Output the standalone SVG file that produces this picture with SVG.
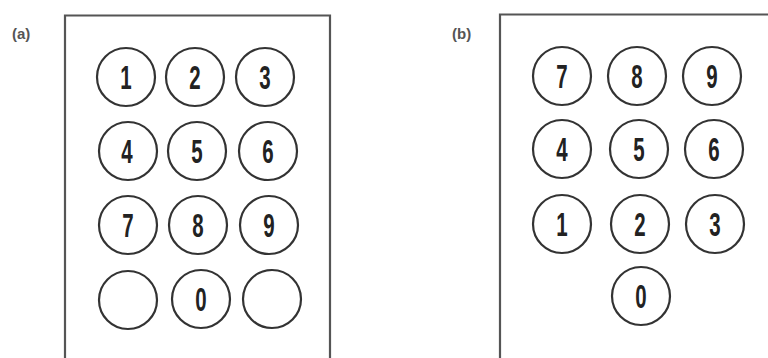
<svg xmlns="http://www.w3.org/2000/svg" width="768" height="358" viewBox="0 0 768 358">
<style>
.frame{fill:none;stroke:#555;stroke-width:2.2}
.key{fill:none;stroke:#333;stroke-width:2.2}
.d{font-family:"Liberation Sans Narrow","Liberation Sans",sans-serif;font-size:33px;font-weight:bold;fill:#222;text-anchor:middle}
.lbl{font-family:"Liberation Sans","DejaVu Sans",sans-serif;font-size:15px;font-weight:bold;fill:#555}
</style>
<rect width="768" height="358" fill="#fff"/>
<g id="panel-a">
<text class="lbl" x="12" y="39">(a)</text>
<path class="frame" d="M65,358 V15.5 H330 V358"/>
<g id="a1"><ellipse class="key" cx="126" cy="77" rx="29" ry="29"/><text class="d" transform="translate(126,89) scale(0.62,1)">1</text></g>
<g id="a2"><ellipse class="key" cx="195" cy="77" rx="29" ry="29"/><text class="d" transform="translate(195,89) scale(0.62,1)">2</text></g>
<g id="a3"><ellipse class="key" cx="265" cy="77" rx="29" ry="29"/><text class="d" transform="translate(265,89) scale(0.62,1)">3</text></g>
<g id="a4"><ellipse class="key" cx="128" cy="151" rx="29" ry="29"/><text class="d" transform="translate(127,163) scale(0.62,1)">4</text></g>
<g id="a5"><ellipse class="key" cx="197" cy="151" rx="29" ry="29"/><text class="d" transform="translate(197,163) scale(0.62,1)">5</text></g>
<g id="a6"><ellipse class="key" cx="268" cy="151" rx="29" ry="29"/><text class="d" transform="translate(268,163) scale(0.62,1)">6</text></g>
<g id="a7"><ellipse class="key" cx="128" cy="225" rx="29" ry="29"/><text class="d" transform="translate(128,237) scale(0.62,1)">7</text></g>
<g id="a8"><ellipse class="key" cx="198" cy="225" rx="29" ry="29"/><text class="d" transform="translate(198,237) scale(0.62,1)">8</text></g>
<g id="a9"><ellipse class="key" cx="269" cy="225" rx="29" ry="29"/><text class="d" transform="translate(269,237) scale(0.62,1)">9</text></g>
<g id="a-blank-left"><ellipse class="key" cx="128" cy="300" rx="29" ry="29"/></g>
<g id="a0"><ellipse class="key" cx="201" cy="299" rx="29" ry="29"/><text class="d" transform="translate(201,311) scale(0.62,1)">0</text></g>
<g id="a-blank-right"><ellipse class="key" cx="272" cy="299" rx="29" ry="29"/></g>
</g>
<g id="panel-b">
<text class="lbl" x="452" y="39">(b)</text>
<path class="frame" d="M500,358 V14.5 H768"/>
<g id="b7"><ellipse class="key" cx="562" cy="76" rx="29" ry="29"/><text class="d" transform="translate(562,88) scale(0.62,1)">7</text></g>
<g id="b8"><ellipse class="key" cx="637" cy="76" rx="29" ry="29"/><text class="d" transform="translate(637,88) scale(0.62,1)">8</text></g>
<g id="b9"><ellipse class="key" cx="712" cy="76" rx="29" ry="29"/><text class="d" transform="translate(712,88) scale(0.62,1)">9</text></g>
<g id="b4"><ellipse class="key" cx="562" cy="149" rx="29" ry="29"/><text class="d" transform="translate(562,161) scale(0.62,1)">4</text></g>
<g id="b5"><ellipse class="key" cx="639" cy="149" rx="29" ry="29"/><text class="d" transform="translate(639,161) scale(0.62,1)">5</text></g>
<g id="b6"><ellipse class="key" cx="714" cy="149" rx="29" ry="29"/><text class="d" transform="translate(714,161) scale(0.62,1)">6</text></g>
<g id="b1"><ellipse class="key" cx="562" cy="224" rx="29" ry="29"/><text class="d" transform="translate(562,236) scale(0.62,1)">1</text></g>
<g id="b2"><ellipse class="key" cx="640" cy="224" rx="29" ry="29"/><text class="d" transform="translate(640,236) scale(0.62,1)">2</text></g>
<g id="b3"><ellipse class="key" cx="715" cy="224" rx="29" ry="29"/><text class="d" transform="translate(715,236) scale(0.62,1)">3</text></g>
<g id="b0"><ellipse class="key" cx="641" cy="296" rx="29" ry="29"/><text class="d" transform="translate(641,308) scale(0.62,1)">0</text></g>
</g>
</svg>
